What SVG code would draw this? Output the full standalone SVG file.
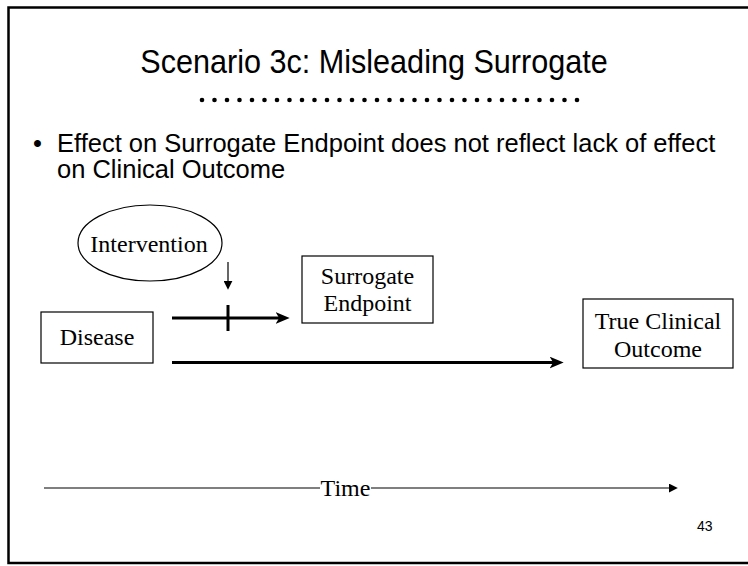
<svg xmlns="http://www.w3.org/2000/svg" width="748" height="566" viewBox="0 0 748 566">
  <style>
    .frame { fill: none; stroke: #000; stroke-width: 2.5; }
    .title { font-family: "Liberation Sans", Arial, sans-serif; font-size: 34px; fill: #000; }
    .body { font-family: "Liberation Sans", Arial, sans-serif; font-size: 25.5px; fill: #000; }
    .page { font-family: "Liberation Sans", Arial, sans-serif; font-size: 14px; fill: #000; }
    .lbl { font-family: "Liberation Serif", "Times New Roman", serif; font-size: 24px; fill: #000; text-anchor: middle; }
    .box { fill: #fff; stroke: #000; stroke-width: 1.2; }
    .thick { stroke: #000; stroke-width: 3; fill: none; }
    .thin { stroke: #000; stroke-width: 1.2; fill: none; }
  </style>
  <defs>
    <marker id="headBig" viewBox="0 0 12 10" refX="8" refY="5" markerWidth="14" markerHeight="12" markerUnits="userSpaceOnUse" orient="auto">
      <path d="M0,0 L12,5 L0,10 L3,5 Z" fill="#000"/>
    </marker>
    <marker id="headSmall" viewBox="0 0 10 10" refX="8" refY="5" markerWidth="9" markerHeight="9" markerUnits="userSpaceOnUse" orient="auto">
      <path d="M0,0 L10,5 L0,10 Z" fill="#000"/>
    </marker>
  </defs>

  <rect width="748" height="566" fill="#fff"/>
  <!-- slide frame (open on the right) -->
  <path class="frame" d="M748,7.5 H8.5 V563 H748"/>

  <!-- heading, narrowed horizontally -->
  <text class="title" transform="translate(374 73) scale(0.9 1)" text-anchor="middle">Scenario 3c: Misleading Surrogate</text>
  <g id="divider" fill="#000">
    <circle cx="202" cy="100" r="2.3"/><circle cx="214.5" cy="100" r="2.3"/><circle cx="227" cy="100" r="2.3"/><circle cx="239.5" cy="100" r="2.3"/>
    <circle cx="252" cy="100" r="2.3"/><circle cx="264.5" cy="100" r="2.3"/><circle cx="277" cy="100" r="2.3"/><circle cx="289.5" cy="100" r="2.3"/>
    <circle cx="302" cy="100" r="2.3"/><circle cx="314.5" cy="100" r="2.3"/><circle cx="327" cy="100" r="2.3"/><circle cx="339.5" cy="100" r="2.3"/>
    <circle cx="352" cy="100" r="2.3"/><circle cx="364.5" cy="100" r="2.3"/><circle cx="377" cy="100" r="2.3"/><circle cx="389.5" cy="100" r="2.3"/>
    <circle cx="402" cy="100" r="2.3"/><circle cx="414.5" cy="100" r="2.3"/><circle cx="427" cy="100" r="2.3"/><circle cx="439.5" cy="100" r="2.3"/>
    <circle cx="452" cy="100" r="2.3"/><circle cx="464.5" cy="100" r="2.3"/><circle cx="477" cy="100" r="2.3"/><circle cx="489.5" cy="100" r="2.3"/>
    <circle cx="502" cy="100" r="2.3"/><circle cx="514.5" cy="100" r="2.3"/><circle cx="527" cy="100" r="2.3"/><circle cx="539.5" cy="100" r="2.3"/>
    <circle cx="552" cy="100" r="2.3"/><circle cx="564.5" cy="100" r="2.3"/><circle cx="577" cy="100" r="2.3"/>
  </g>

  <!-- bullet point -->
  <text class="body" x="33" y="152">•</text>
  <text class="body" x="57" y="152">Effect on Surrogate Endpoint does not reflect lack of effect</text>
  <text class="body" x="57" y="178">on Clinical Outcome</text>

  <!-- connectors -->
  <g id="connectors">
    <line class="thin" x1="228" y1="262" x2="228" y2="288" marker-end="url(#headSmall)"/>
    <line class="thick" x1="172" y1="318" x2="285" y2="318" marker-end="url(#headBig)"/>
    <line class="thick" x1="228" y1="305" x2="228" y2="331"/>
    <line class="thick" x1="172" y1="362.5" x2="559" y2="362.5" marker-end="url(#headBig)"/>
  </g>

  <g id="intervention">
    <ellipse cx="150" cy="243" rx="72" ry="38" fill="#fff" stroke="#000" stroke-width="1.2"/>
    <text class="lbl" x="149" y="252">Intervention</text>
  </g>

  <g id="surrogate">
    <rect class="box" x="302" y="256" width="131" height="67"/>
    <text class="lbl" x="367.5" y="284">Surrogate</text>
    <text class="lbl" x="367.5" y="311">Endpoint</text>
  </g>

  <g id="disease">
    <rect class="box" x="41" y="312" width="112" height="51"/>
    <text class="lbl" x="97" y="345">Disease</text>
  </g>

  <g id="outcome">
    <rect class="box" x="583" y="299" width="150" height="69"/>
    <text class="lbl" x="658" y="329">True Clinical</text>
    <text class="lbl" x="658" y="357">Outcome</text>
  </g>

  <!-- time axis -->
  <g id="time">
    <line class="thin" x1="44" y1="488" x2="320" y2="488"/>
    <line class="thin" x1="371" y1="488" x2="676" y2="488" marker-end="url(#headSmall)"/>
    <text class="lbl" x="345.5" y="496">Time</text>
  </g>

  <text class="page" x="697" y="531">43</text>
</svg>
